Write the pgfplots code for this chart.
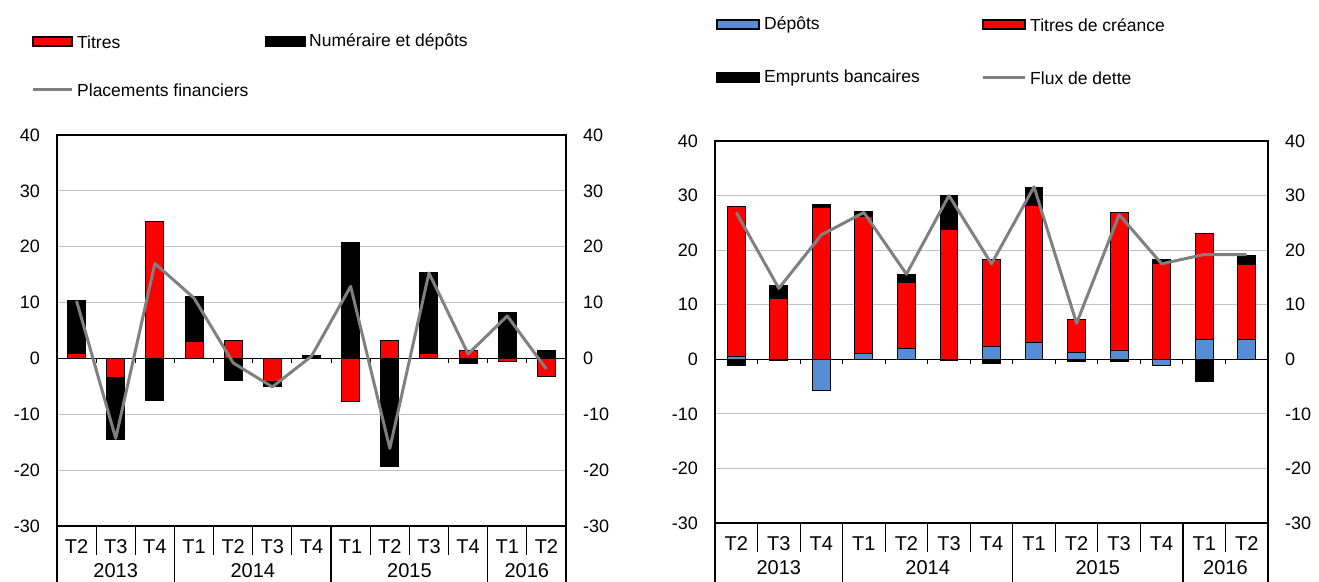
\documentclass[border=0pt]{standalone}
\usepackage{pgfplots}
\usepackage{pgfplotstable}
\pgfplotsset{compat=1.18}
\usepackage{fontspec}
\setmainfont{Liberation Sans}

\definecolor{cred}{RGB}{255,0,0}
\definecolor{cblue}{RGB}{85,142,213}
\definecolor{cline}{RGB}{128,128,128}
\definecolor{cgrid}{RGB}{192,192,192}

% left panel: Titres, Numeraire et depots, Placements financiers
\pgfplotstableread{
x tit num tot
0 0.9 9.4 10.3
1 -3.4 -11.1 -14.3
2 24.5 -7.5 17.0
3 3.0 8.0 10.8
4 3.2 -4.0 -0.8
5 -4.2 -0.9 -5.1
6 0.0 0.5 0.4
7 -7.7 20.8 12.9
8 3.2 -19.3 -16.1
9 0.9 14.5 15.3
10 1.5 -0.9 0.8
11 -0.5 8.3 7.6
12 -3.3 1.4 -1.9
}\leftdata

% right panel: Depots, Titres de creance, Emprunts bancaires, Flux de dette
\pgfplotstableread{
x dep tit emp tot
0 0.6 27.4 -1.2 26.9
1 -0.3 11.2 2.3 13.0
2 -5.7 27.9 0.5 22.8
3 1.0 25.1 0.9 26.9
4 2.0 12.0 1.6 15.6
5 -0.2 23.7 6.4 30.0
6 2.3 16.0 -0.8 17.5
7 3.0 25.1 3.4 31.6
8 1.2 6.0 -0.4 6.6
9 1.7 25.2 -0.4 26.5
10 -1.2 17.5 0.8 17.5
11 3.7 19.4 -4.0 19.2
12 3.7 13.7 1.6 19.2
}\rightdata

\tikzset{seg/.style={draw=black, line width=1pt}}

\pgfplotsset{
  panel/.style={
    scale only axis, anchor=south west,
    xmin=-0.5, xmax=12.5, ymin=-30, ymax=40,
    ytick={-30,-20,...,40},
    xtick={0,...,12},
    xticklabels={T2,T3,T4,T1,T2,T3,T4,T1,T2,T3,T4,T1,T2},
    major tick length=0pt,
    ymajorgrids, y grid style={cgrid, line width=1pt},
    axis line style={line width=1.2pt},
    /pgf/number format/assume math mode=true,
    yticklabel style={font=\fontsize{18}{20}\selectfont, anchor=east, inner sep=0pt, xshift=-17pt},
    xticklabel style={font=\fontsize{20}{22}\selectfont, anchor=base, inner sep=0pt, yshift=-27pt},
    clip=false,
  },
  over/.style={
    scale only axis, anchor=south west,
    xmin=-0.5, xmax=12.5, ymin=-30, ymax=40,
    ytick={-30,-20,...,40},
    hide x axis, axis y line*=right,
    y axis line style={line width=1.2pt},
    major tick length=0pt,
    /pgf/number format/assume math mode=true,
    yticklabel style={font=\fontsize{18}{20}\selectfont, anchor=west, inner sep=0pt, xshift=17pt},
  },
}

\newcommand{\decor}{%
  \draw[line width=1.2pt] (axis cs:-0.5,0) -- (axis cs:12.5,0);
  \pgfplotsinvokeforeach{0.5,1.5,...,11.5}{\draw[line width=1pt] (axis cs:##1,0) -- ++(0pt,-5pt);}
  \pgfplotsinvokeforeach{0.5,1.5,3.5,4.5,5.5,7.5,8.5,9.5,11.5}{\draw[line width=1pt] (axis cs:##1,-30) -- ++(0pt,-29pt);}
  \pgfplotsinvokeforeach{-0.5,2.5,6.5,10.5,12.5}{\draw[line width=1.2pt] (axis cs:##1,-30) -- ++(0pt,-70pt);}
  \node[anchor=base, font=\fontsize{20}{22}\selectfont] at ([yshift=-51pt]axis cs:1,-30) {2013};
  \node[anchor=base, font=\fontsize{20}{22}\selectfont] at ([yshift=-51pt]axis cs:4.5,-30) {2014};
  \node[anchor=base, font=\fontsize{20}{22}\selectfont] at ([yshift=-51pt]axis cs:8.5,-30) {2015};
  \node[anchor=base, font=\fontsize{20}{22}\selectfont] at ([yshift=-51pt]axis cs:11.5,-30) {2016};
}

\begin{document}
\begin{tikzpicture}
\useasboundingbox (0,0) rectangle (1319pt,581pt);
\clip (0,0) rectangle (1319pt,581pt);

% ---- left panel
\begin{axis}[panel, at={(57pt,55pt)}, width=509pt, height=391pt,
  ybar stacked, stack negative=separate, bar width=0.46]
\addplot[seg, fill=cred] table[x=x, y=tit] {\leftdata};
\addplot[seg, fill=black] table[x=x, y=num] {\leftdata};
\decor
\end{axis}
\begin{axis}[over, at={(57pt,55pt)}, width=509pt, height=391pt]
\addplot[cline, line width=3pt, line join=round, sharp plot] table[x=x, y=tot] {\leftdata};
\end{axis}

% ---- right panel
\begin{axis}[panel, at={(715pt,58pt)}, width=553pt, height=382pt,
  ybar stacked, stack negative=separate, bar width=0.42]
\addplot[seg, fill=cblue] table[x=x, y=dep] {\rightdata};
\addplot[seg, fill=cred] table[x=x, y=tit] {\rightdata};
\addplot[seg, fill=black] table[x=x, y=emp] {\rightdata};
\decor
\end{axis}
\begin{axis}[over, at={(715pt,58pt)}, width=553pt, height=382pt]
\addplot[cline, line width=3pt, line join=round, sharp plot] table[x=x, y=tot] {\rightdata};
\end{axis}

% ---- legends
\begin{scope}[font=\fontsize{17.5}{19}\selectfont, every node/.style={anchor=west, inner sep=0pt}]
\draw[seg, line width=1.5pt, fill=cred] (33pt,535pt) rectangle (72pt,544pt);
\node at (77pt,539pt) {Titres};
\draw[seg, line width=1.5pt, fill=black] (266pt,535pt) rectangle (305pt,544pt);
\node at (309pt,539pt) {Numéraire et dépôts};
\draw[cline, line width=3pt] (33pt,491pt) -- (72pt,491pt);
\node at (77pt,491pt) {Placements financiers};

\draw[seg, line width=1.5pt, fill=cblue] (717pt,552pt) rectangle (759pt,561pt);
\node at (764pt,556pt) {Dépôts};
\draw[seg, line width=1.5pt, fill=cred] (983pt,552pt) rectangle (1025pt,561pt);
\node at (1030pt,556pt) {Titres de créance};
\draw[seg, line width=1.5pt, fill=black] (717pt,499pt) rectangle (759pt,508pt);
\node at (764pt,503pt) {Emprunts bancaires};
\draw[cline, line width=3pt] (983pt,503pt) -- (1025pt,503pt);
\node at (1030pt,503pt) {Flux de dette};
\end{scope}
\end{tikzpicture}
\end{document}
